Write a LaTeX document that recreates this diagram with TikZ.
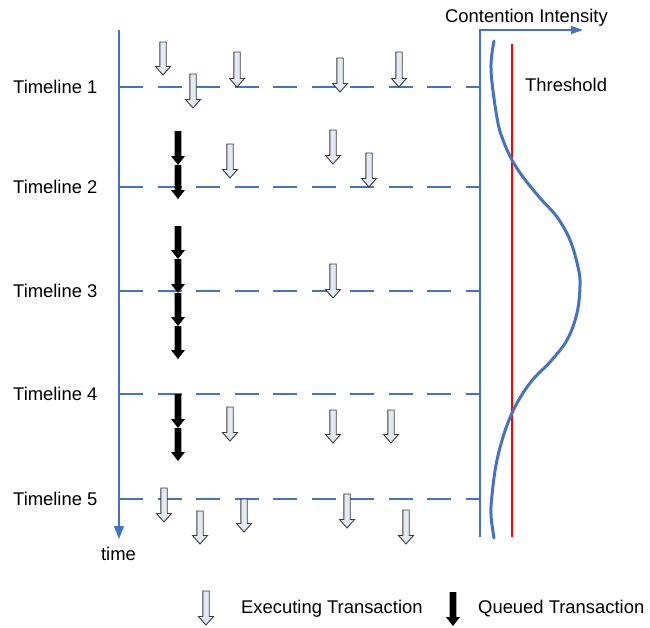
\documentclass[tikz,border=0pt]{standalone}
\usepackage{fontspec}
\setmainfont{Liberation Sans}
\usetikzlibrary{arrows.meta}
\definecolor{axisblue}{HTML}{4472C4}
\definecolor{arrowfill}{HTML}{E2E9F2}
\definecolor{arrowedge}{HTML}{3C3C3C}
% hollow (executing) and solid (queued) block arrows: x, top, tip
\newcommand\txnexec[3]{\draw[execarr] (#1-3.2,#2) -- (#1+3.2,#2) -- (#1+3.2,#3-8.5) -- (#1+7.5,#3-8.5) -- (#1,#3) -- (#1-7.5,#3-8.5) -- (#1-3.2,#3-8.5) -- cycle;}
\newcommand\txnqueue[3]{\fill[queuearr] (#1-3.3,#2) -- (#1+3.3,#2) -- (#1+3.3,#3-9) -- (#1+7,#3-9) -- (#1,#3) -- (#1-7,#3-9) -- (#1-3.3,#3-9) -- cycle;}
\begin{document}
\begin{tikzpicture}[x=1pt,y=-1pt,
  lbl/.style={inner sep=0pt,font=\fontsize{18.4}{22}\selectfont},
  axisline/.style={draw=axisblue,line width=1.4pt},
  timeline/.style={draw=axisblue,line width=1.4pt,dash pattern=on 24pt off 14.5pt},
  execarr/.style={draw=arrowedge,fill=arrowfill,line width=0.9pt,line join=miter},
  queuearr/.style={fill=black},
  curve/.style={draw=axisblue,line width=3pt,line cap=round},
  threshold/.style={draw=red,line width=1.5pt}]
\useasboundingbox (0,0) rectangle (650,627);

% time axis
\coordinate (tTop) at (119,30);
\coordinate (tBot) at (119,539);
\draw[axisline,-{Triangle[length=13pt,width=10pt]}] (tTop) -- (tBot);
\node[lbl,anchor=base] (timelbl) at (118.5,560) {time};

% contention intensity axis
\coordinate (cBot) at (480,537);
\coordinate (cCorner) at (480,30);
\coordinate (cEnd) at (583,30);
\draw[axisline,-{Triangle[length=12pt,width=8pt]}] (cBot) -- (cCorner) -- (cEnd);
\node[lbl,anchor=base west] (cilbl) at (445,22) {Contention Intensity};

% threshold
\coordinate (thTop) at (512,44);
\coordinate (thBot) at (512,537);
\draw[threshold] (thTop) -- (thBot);
\node[lbl,anchor=base west] (thlbl) at (525,91) {Threshold};

% contention profile
\draw[curve] plot[smooth,tension=0.6] coordinates {
  (494,41) (491,70) (497,118) (503,140) (512,160) (523,177) (540,198)
  (557,217) (570,240) (578,267) (580,285) (577,313) (567,340) (550,362)
  (535,377) (523,393) (512,413) (503,437) (496,465) (492,495) (491,515) (494,538)};

% timelines
\foreach \k/\y in {1/87,2/187,3/291,4/394,5/499}{
  \node[lbl,anchor=base west] (tl\k) at (13,\y+6) {Timeline \k};
  \coordinate (ts\k) at (119,\y);
  \coordinate (te\k) at (480,\y);
  \draw[timeline] (ts\k) -- (te\k);
}

% queued transactions
\txnqueue{178}{131}{165}
\txnqueue{178}{165}{199}
\txnqueue{178}{226}{259}
\txnqueue{178}{259}{293}
\txnqueue{178}{293}{326}
\txnqueue{178}{326}{359}
\txnqueue{178}{394}{428}
\txnqueue{178}{428}{461}

% executing transactions
\txnexec{163}{42}{75}
\txnexec{193}{74}{108}
\txnexec{237}{52}{87}
\txnexec{340}{58}{92}
\txnexec{399}{52}{87}
\txnexec{230}{144}{178}
\txnexec{333}{130}{164}
\txnexec{369}{153}{187}
\txnexec{333}{264}{298}
\txnexec{230}{407}{441}
\txnexec{333}{410}{443}
\txnexec{391}{410}{443}
\txnexec{164}{488}{522}
\txnexec{200}{511}{544}
\txnexec{244}{499}{532}
\txnexec{347}{494}{528}
\txnexec{406}{510}{544}

% legend
\txnexec{206}{591}{625}
\node[lbl,anchor=base west] (legexec) at (241,613) {Executing Transaction};
\txnqueue{453}{592}{626}
\node[lbl,anchor=base west] (legqueue) at (478,613) {Queued Transaction};
\end{tikzpicture}
\end{document}
